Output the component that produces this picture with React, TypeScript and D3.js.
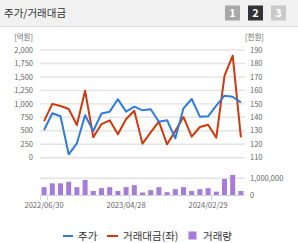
import React from 'react';
import * as d3 from 'd3';

// month-end dates
const dates = [
    '2022/06/30', '2022/07/29', '2022/08/31', '2022/09/30', '2022/10/31', '2022/11/30', '2022/12/29',
    '2023/01/31', '2023/02/28', '2023/03/31', '2023/04/28', '2023/05/31', '2023/06/30', '2023/07/31',
    '2023/08/31', '2023/09/27', '2023/10/31', '2023/11/30', '2023/12/28', '2024/01/31', '2024/02/29',
    '2024/03/29', '2024/04/30', '2024/05/31', '2024/06/28'
];

// 주가 (천원, right axis)
const price = [
    130.6, 143.0, 140.8, 112.5, 120.7, 141.5, 129.8, 142.8, 144.2, 153.4, 144.2, 147.9, 145.2,
    146.0, 136.7, 137.8, 124.4, 146.7, 153.6, 140.5, 140.7, 148.6, 156.1, 155.3, 151.1
];

// 거래대금 (억원, left axis)
const tradeValue = [
    680, 1000, 960, 905, 607, 1245, 379, 625, 694, 434, 718, 873, 260,
    471, 669, 249, 496, 756, 390, 570, 613, 372, 1518, 1895, 379
];

// 거래량 (주)
const volume = [
    470000, 700000, 700000, 790000, 470000, 900000, 240000, 410000, 470000, 240000, 470000, 590000, 150000,
    290000, 470000, 170000, 350000, 470000, 240000, 350000, 410000, 200000, 960000, 1200000, 240000
];

const leftTicks = [0, 250, 500, 750, 1000, 1250, 1500, 1750, 2000];
const rightTicks = [110, 120, 130, 140, 150, 160, 170, 180, 190];
const volumeTicks = [0, 1000000];
const labelIdx = [0, 10, 20];

const FONT = '"Noto Sans CJK KR", "Noto Sans", sans-serif';
const BLUE = '#2f7be0';
const RED = '#d0390c';
const PURPLE = '#a77bdb';

export default function App() {
    const W = 298, H = 243;

    const x = d3.scaleBand<string>().domain(dates).range([40, 245]);
    const cx = (d: string) => (x(d) as number) + x.bandwidth() / 2;

    const yLeft = d3.scaleLinear().domain([0, 2000]).range([157.7, 50]);
    const yRight = d3.scaleLinear().domain([110, 190]).range([157.7, 50]);
    const yVol = d3.scaleLinear().domain([0, 1000000]).range([195, 178.3]);

    const priceLine = d3.line<number>()
        .x((_, i) => cx(dates[i]))
        .y(d => yRight(d));
    const valueLine = d3.line<number>()
        .x((_, i) => cx(dates[i]))
        .y(d => yLeft(d));

    const axisText = { fontFamily: FONT, fontSize: 7.5, fill: '#666' };

    return (
        <div style={{ position: 'absolute', left: 0, top: 0, background: '#fff' }}>
            <svg width={W} height={H} style={{ display: 'block' }}>
                {/* header */}
                <rect x={0} y={0} width={W} height={26} fill="#f1f1f1" />
                <line x1={0} x2={W} y1={26.5} y2={26.5} stroke="#dcdcdc" />
                <text x={4} y={17} style={{ fontFamily: FONT, fontSize: 10.5, fill: '#333' }}>주가/거래대금</text>
                {[['1', '#a8a8a8'], ['2', '#333333'], ['3', '#c9c9c9']].map(([t, c], i) => (
                    <g key={t}>
                        <rect x={225 + i * 23} y={5.5} width={15} height={15} fill={c} />
                        <text x={232.5 + i * 23} y={17} textAnchor="middle"
                            style={{ fontFamily: FONT, fontSize: 11, fontWeight: 700, fill: '#fff' }}>{t}</text>
                    </g>
                ))}

                {/* units */}
                <text x={33} y={40} textAnchor="end" style={axisText}>[억원]</text>
                <text x={245} y={40} style={axisText}>[천원]</text>

                {/* grid */}
                {leftTicks.map(t => (
                    <line key={t} x1={40} x2={245} y1={yLeft(t)} y2={yLeft(t)} stroke="#e4e4e4" strokeWidth={1.4} />
                ))}
                {leftTicks.map(t => (
                    <text key={t} x={33} y={yLeft(t) + 2.7} textAnchor="end" style={axisText}>{d3.format(',')(t)}</text>
                ))}
                {rightTicks.map(t => (
                    <text key={t} x={250} y={yRight(t) + 2.7} style={axisText}>{t}</text>
                ))}

                {/* lines */}
                <path d={valueLine(tradeValue) as string} fill="none" stroke={RED} strokeWidth={2} strokeLinejoin="round" />
                <path d={priceLine(price) as string} fill="none" stroke={BLUE} strokeWidth={2} strokeLinejoin="round" />

                {/* volume */}
                <line x1={40} x2={245} y1={yVol(1000000)} y2={yVol(1000000)} stroke="#e4e4e4" strokeWidth={1.4} />
                {volume.map((v, i) => (
                    <rect key={i} x={cx(dates[i]) - 2.5} y={yVol(v)} width={5} height={yVol(0) - yVol(v)}
                        fill={PURPLE} />
                ))}
                {volumeTicks.map(t => (
                    <text key={t} x={250} y={yVol(t) + 2.7} style={axisText}>{d3.format(',')(t)}</text>
                ))}

                {/* x axis */}
                <line x1={40} x2={245} y1={195.5} y2={195.5} stroke="#ccd6eb" />
                <line x1={40.5} x2={40.5} y1={195} y2={200} stroke="#ccd6eb" />
                {labelIdx.map(i => {
                    const tx = Math.round((x(dates[i]) as number) + x.bandwidth()) - 0.5;
                    return (
                        <g key={i}>
                            <line x1={tx} x2={tx} y1={195} y2={200} stroke="#ccd6eb" />
                            <text x={cx(dates[i])} y={208} textAnchor="middle" style={axisText}>{dates[i]}</text>
                        </g>
                    );
                })}

                {/* legend */}
                <line x1={63} x2={73} y1={236} y2={236} stroke={BLUE} strokeWidth={2} />
                <text x={78} y={240} style={{ fontFamily: FONT, fontSize: 10.5, fill: '#333' }}>주가</text>
                <line x1={107} x2={118} y1={236} y2={236} stroke={RED} strokeWidth={2} />
                <text x={123} y={240} style={{ fontFamily: FONT, fontSize: 10.5, fill: '#333' }}>거래대금(좌)</text>
                <rect x={188.5} y={231.5} width={8} height={8} fill={PURPLE} />
                <text x={203} y={240} style={{ fontFamily: FONT, fontSize: 10.5, fill: '#333' }}>거래량</text>
            </svg>
        </div>
    );
}
